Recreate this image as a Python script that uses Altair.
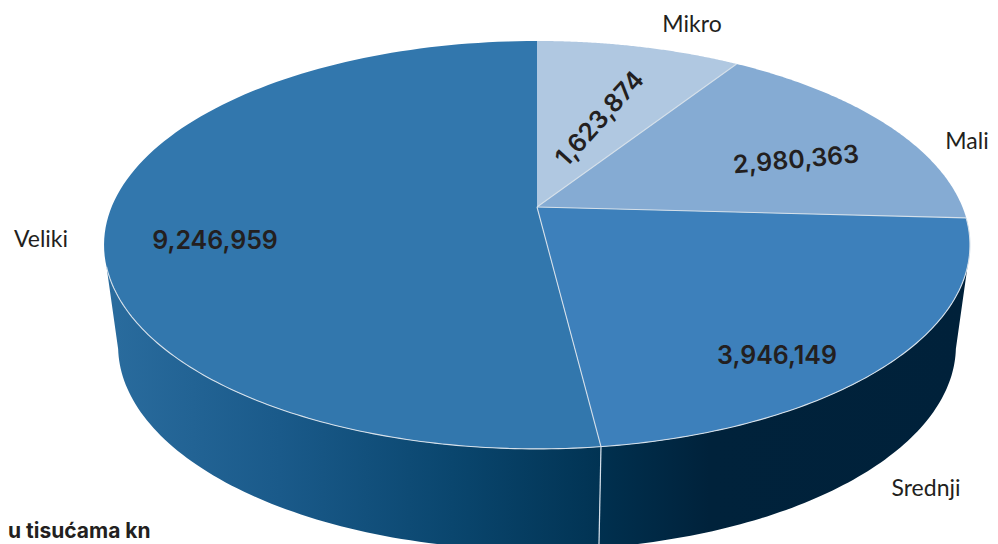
import numpy as np
import pandas as pd
import altair as alt

names = ["Mikro", "Mali", "Srednji", "Veliki"]
values = [1623874, 2980363, 3946149, 9246959]
value_labels = ["1,623,874", "2,980,363", "3,946,149", "9,246,959"]
slice_colors = ["#b0c8e1", "#85abd3", "#3d80bb", "#3277ad"]

# picture geometry of the tilted disc (perspective view of a circle)
CX, TOP_Y, LOW_Y = 537.0, 207.0, 308.0
RX_TOP, RX_LOW, RY, K = 425.4, 411.6, 196.9, 0.186
RIM = "#d5e0ea"

total = sum(values)
edges = np.concatenate([[0.0], np.cumsum(values) / total]) * 2 * np.pi


def project(theta, ax, y0):
    s, c = np.sin(theta), np.cos(theta)
    d = 1 + K * c
    return CX + ax * s / d, y0 - RY * c / d


def path(xs, ys):
    return pd.DataFrame({"x": xs, "y": ys, "i": np.arange(len(xs))})


X = alt.X("x:Q", scale=alt.Scale(domain=[8, 990], nice=False, zero=False), axis=None)
Y = alt.Y("y:Q", scale=alt.Scale(domain=[544, 8], nice=False, zero=False), axis=None)
O = alt.Order("i:Q")


def poly(df, fill):
    return alt.Chart(df).mark_line(fill=fill, stroke="transparent", strokeWidth=0, clip=True, interpolate="linear").encode(x=X, y=Y, order=O)


def stroke(df, w=1.1, color=RIM):
    return alt.Chart(df).mark_line(color=color, strokeWidth=w, clip=True, interpolate="linear").encode(x=X, y=Y, order=O)


def wall(t0, t1, t1_low):
    tt = np.linspace(t0, t1, 80)
    tl = np.linspace(t1_low, t0, 80)
    xa, ya = project(tt, RX_TOP, TOP_Y)
    xb, yb = project(tl, RX_LOW, LOW_Y)
    return path(np.concatenate([xa, xb, xa[:1]]), np.concatenate([ya, yb, ya[:1]]))


seam = edges[3]
c_edge = np.arccos(-0.288)
c_low = np.arccos(-0.20)
layers = []
# right wall (Srednji) and left wall (Veliki)
grad_right = {"gradient": "linear", "x1": 0, "x2": 1, "y1": 0, "y2": 0, "stops": [
    {"offset": 0, "color": "#00304f"}, {"offset": 0.3, "color": "#00223b"}, {"offset": 1, "color": "#00213a"}]}
grad_left = {"gradient": "linear", "x1": 0, "x2": 1, "y1": 0, "y2": 0, "stops": [
    {"offset": 0, "color": "#2a6c9e"}, {"offset": 0.35, "color": "#1a5a8a"},
    {"offset": 0.7, "color": "#0a466e"}, {"offset": 1, "color": "#013353"}]}
layers.append(poly(wall(seam, c_edge, c_low), grad_right))
layers.append(poly(wall(seam, 2 * np.pi - c_edge, 2 * np.pi - c_low), grad_left))
sx0, sy0 = project(np.array([seam]), RX_TOP, TOP_Y)
sx1, sy1 = project(np.array([seam]), RX_LOW, LOW_Y)
layers.append(stroke(path([sx0[0], sx1[0]], [sy0[0], sy1[0]]), 1.2))

# top face
for n, a, b, col in zip(names, edges[:-1], edges[1:], slice_colors):
    t = np.linspace(a, b, 120)
    xs, ys = project(t, RX_TOP, TOP_Y)
    layers.append(poly(path(np.concatenate([[CX], xs, [CX]]), np.concatenate([[TOP_Y], ys, [TOP_Y]])), col))

# radii and front rim
for a in edges[1:4]:
    xe, ye = project(np.array([a]), RX_TOP, TOP_Y)
    layers.append(stroke(path([CX, xe[0]], [TOP_Y, ye[0]])))
t = np.linspace(edges[2], 2 * np.pi - c_edge, 200)
xs, ys = project(t, RX_TOP, TOP_Y)
layers.append(stroke(path(xs, ys)))

# texts
name_pos = {"x": [692, 967, 926, 41], "y": [25, 142, 489, 240]}
val_pos = {"x": [600, 796, 777, 215], "y": [119, 160, 356, 241], "angle": [312, 355, 0, 0]}
names_df = pd.DataFrame({"t": names, **name_pos})
vals_df = pd.DataFrame({"t": value_labels, **val_pos})
layers.append(alt.Chart(names_df).mark_text(font="Lato", fontSize=23, color="#231f20", baseline="middle", align="center").encode(x=X, y=Y, text="t:N"))
layers.append(alt.Chart(vals_df).mark_text(font="Inter", fontSize=25, fontWeight=600, color="#231f20", baseline="middle", align="center").encode(
    x=X, y=Y, text="t:N", angle=alt.Angle("angle:Q", scale=None)))
layers.append(alt.Chart(pd.DataFrame({"t": ["u tisućama kn"], "x": [8], "y": [532]})).mark_text(
    font="Inter", fontSize=21, fontWeight=700, color="#231f20", baseline="middle", align="left").encode(x=X, y=Y, text="t:N"))

chart = alt.layer(*layers).properties(
    width=982, height=536, padding=0, autosize=alt.AutoSizeParams(type="none"),
).configure_view(stroke=None)
chart.save("out.html", embed_options={"renderer": "svg", "actions": False})
